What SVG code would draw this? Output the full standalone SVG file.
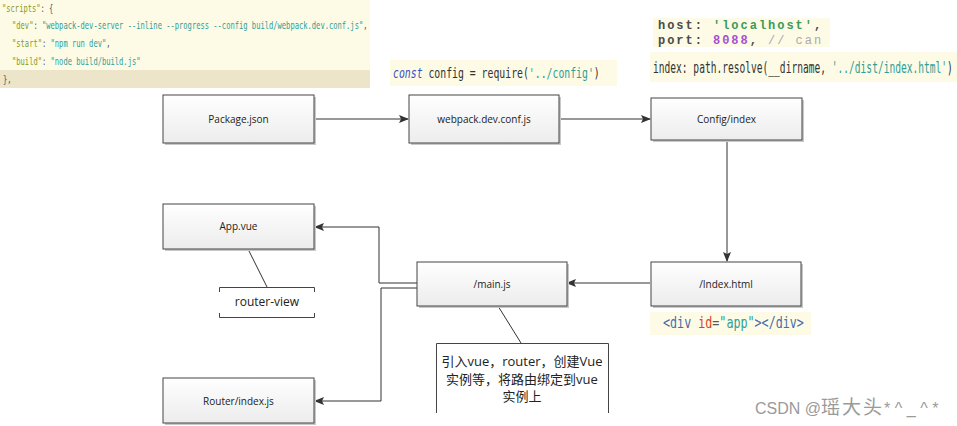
<svg xmlns="http://www.w3.org/2000/svg" width="957" height="426" viewBox="0 0 957 426">
<defs>
<linearGradient id="g" x1="0" y1="0" x2="0" y2="1"><stop offset="0" stop-color="#ffffff"/><stop offset="1" stop-color="#ececec"/></linearGradient>
<marker id="ah" markerWidth="10" markerHeight="8" refX="9" refY="4" orient="auto" markerUnits="userSpaceOnUse"><path d="M0,0 L10,4 L0,8 L2,4 z" fill="#333"/></marker>
</defs>
<style>
.box{fill:url(#g);stroke:#444;stroke-width:1}
.sh{fill:#c8c8c8}
.lbl{font-family:"Open Sans","Noto Sans",sans-serif;font-size:10px;fill:#222;text-anchor:middle}
.code{font-family:"DejaVu Sans Mono","Liberation Mono",monospace}
.c11{font-size:11px}.c14{font-size:14px}.c15{font-size:15px}
.hp{font-family:"Liberation Mono",monospace;font-weight:bold;font-size:12px;letter-spacing:1.97px}
.bg{fill:#fdfbe6}
.conn{fill:none;stroke:#333;stroke-width:1}
.k{fill:#8a9a1e}.s{fill:#2f9e96}.p{fill:#555}.d{fill:#333}
.cjk{font-family:"Open Sans","Noto Sans CJK SC",sans-serif;font-size:13px;fill:#222;text-anchor:middle}
</style>

<g id="code-scripts">
<rect x="0" y="0" width="370" height="70" class="bg"/>
<rect x="0" y="70" width="370" height="18" fill="#ede5c9"/>
<text class="code c11" transform="translate(2,12) scale(0.648,1)"><tspan class="k">"scripts"</tspan><tspan class="p">: {</tspan></text>
<text class="code c11" transform="translate(12,29) scale(0.648,1)"><tspan class="k">"dev"</tspan><tspan class="p">: </tspan><tspan class="s">"webpack-dev-server --inline --progress --config build/webpack.dev.conf.js"</tspan><tspan class="p">,</tspan></text>
<text class="code c11" transform="translate(12,47) scale(0.648,1)"><tspan class="k">"start"</tspan><tspan class="p">: </tspan><tspan class="s">"npm run dev"</tspan><tspan class="p">,</tspan></text>
<text class="code c11" transform="translate(12,65) scale(0.648,1)"><tspan class="k">"build"</tspan><tspan class="p">: </tspan><tspan class="s">"node build/build.js"</tspan></text>
<text class="code c11 p" transform="translate(3,83) scale(0.648,1)">},</text>
</g>

<g id="code-const">
<rect x="390" y="60" width="227" height="26" class="bg"/>
<text class="code c14" transform="translate(393,78) scale(0.7016,1)"><tspan fill="#3a4fc0" font-style="italic">const</tspan><tspan class="d"> config = require(</tspan><tspan class="s">'../config'</tspan><tspan class="d">)</tspan></text>
</g>

<g id="code-host">
<rect x="653" y="18" width="177" height="29" class="bg"/>
<text class="hp" x="658" y="29"><tspan fill="#4a4a4a">host: </tspan><tspan fill="#3a9a5a">'localhost'</tspan><tspan fill="#4a4a4a">,</tspan></text>
<text class="hp" x="658" y="43.5"><tspan fill="#4a4a4a">port: </tspan><tspan fill="#a64fd0">8088</tspan><tspan fill="#4a4a4a">, </tspan><tspan fill="#aaaaaa" font-weight="normal">// can</tspan></text>
</g>

<g id="code-index">
<rect x="650" y="52" width="307" height="30" class="bg"/>
<text class="code c15" transform="translate(653,73) scale(0.639,1)"><tspan class="d">index: path.resolve(__dirname, </tspan><tspan class="s">'../dist/index.html'</tspan><tspan class="d">)</tspan></text>
</g>

<g id="code-div">
<rect x="650" y="312" width="161" height="23" class="bg"/>
<text class="code c15" transform="translate(663,328) scale(0.781,1)"><tspan fill="#4a6aa8">&lt;div </tspan><tspan fill="#e0401e">id</tspan><tspan class="p">=</tspan><tspan class="s">"app"</tspan><tspan fill="#4a6aa8">&gt;&lt;/div&gt;</tspan></text>
</g>

<g id="connectors">
<line class="conn" x1="314" y1="119" x2="408" y2="119" marker-end="url(#ah)"/>
<line class="conn" x1="559" y1="119" x2="650" y2="119" marker-end="url(#ah)"/>
<line class="conn" x1="727" y1="140" x2="727" y2="261" marker-end="url(#ah)"/>
<line class="conn" x1="650" y1="283" x2="567" y2="283" marker-end="url(#ah)"/>
<polyline class="conn" points="417,283 379,283 379,227 315,227" marker-end="url(#ah)"/>
<polyline class="conn" points="417,288 381,288 381,401 315,401" marker-end="url(#ah)"/>
<line class="conn" x1="248" y1="249" x2="267" y2="287" stroke="#555"/>
<line class="conn" x1="498" y1="306" x2="521" y2="343" stroke="#555"/>
</g>

<g id="package-json">
<rect x="165" y="97" width="151" height="48" class="sh"/>
<rect x="163" y="95" width="151" height="48" class="box"/>
<text class="lbl" x="238.5" y="122.5">Package.json</text>
</g>
<g id="webpack-dev-conf">
<rect x="411" y="97" width="150" height="48" class="sh"/>
<rect x="409" y="95" width="150" height="48" class="box"/>
<text class="lbl" x="484" y="122.5">webpack.dev.conf.js</text>
</g>
<g id="config-index">
<rect x="653" y="100" width="151" height="42" class="sh"/>
<rect x="651" y="98" width="151" height="42" class="box"/>
<text class="lbl" x="726.5" y="122.5">Config/index</text>
</g>
<g id="index-html">
<rect x="653" y="264" width="150" height="44" class="sh"/>
<rect x="651" y="262" width="150" height="44" class="box"/>
<text class="lbl" x="726" y="287.5">/Index.html</text>
</g>
<g id="main-js">
<rect x="419" y="264" width="150" height="44" class="sh"/>
<rect x="417" y="262" width="150" height="44" class="box"/>
<text class="lbl" x="492" y="287.5">/main.js</text>
</g>
<g id="app-vue">
<rect x="165" y="206" width="151" height="45" class="sh"/>
<rect x="163" y="204" width="151" height="45" class="box"/>
<text class="lbl" x="238.5" y="230">App.vue</text>
</g>
<g id="router-index">
<rect x="165" y="380" width="151" height="45" class="sh"/>
<rect x="163" y="378" width="151" height="45" class="box"/>
<text class="lbl" x="238.5" y="404.5">Router/index.js</text>
</g>
<g id="router-view">
<path d="M219.5,292 V287.5 H314.5 V292 M219.5,313 V317.5 H314.5 V313" fill="none" stroke="#444"/>
<text x="267" y="306" font-family="Open Sans,Noto Sans,sans-serif" font-size="12" fill="#222" text-anchor="middle">router-view</text>
</g>
<g id="main-note">
<path d="M436.5,413 V343.5 H608.5 V413" fill="#fff" stroke="#444"/>
<text class="cjk" x="522" y="366">引入vue，router，创建Vue</text>
<text class="cjk" x="522" y="384">实例等，将路由绑定到vue</text>
<text class="cjk" x="522" y="401">实例上</text>
</g>
<text x="755" y="414" font-family="Liberation Sans,Noto Sans CJK SC,sans-serif" font-size="16" fill="#9a9a9a">CSDN @<tspan font-size="19" letter-spacing="2">瑶大头</tspan><tspan letter-spacing="4.5">*^_^*</tspan></text>
</svg>
